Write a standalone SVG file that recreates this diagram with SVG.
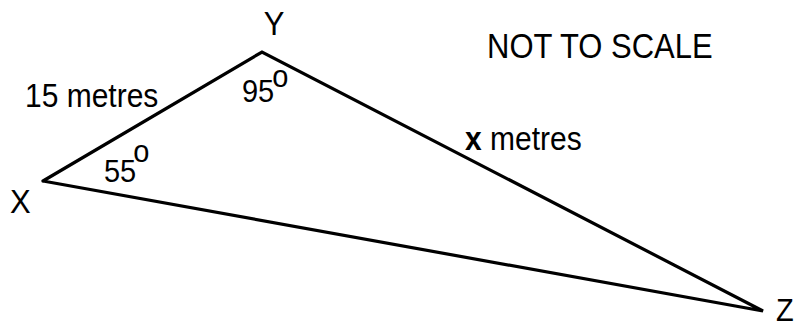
<svg xmlns="http://www.w3.org/2000/svg" width="797" height="329" viewBox="0 0 797 329">
<style>
text{font-family:"Liberation Sans",Arial,sans-serif;fill:#000}
.v{font-size:31px}
.l{font-size:30px}
.a{font-size:29px}
.edge{stroke:#000;stroke-width:3.2;fill:none;stroke-linejoin:miter;stroke-linecap:round}
</style>
<rect width="797" height="329" fill="#fff"/>
<g id="connectors">
<polyline class="edge" points="43,181 262,52 763,311 43,181"/>
</g>
<g id="node-Y"><text class="v" transform="translate(274,35) scale(1,1.08)" text-anchor="middle">Y</text></g>
<g id="node-X"><text class="v" transform="translate(10,213) scale(1,1.08)">X</text></g>
<g id="node-Z"><text transform="translate(776,321) scale(1,1.08)" font-size="29">Z</text></g>
<g id="label-xy"><text class="l" transform="translate(25,107) scale(1,1.1)">15 metres</text></g>
<g id="label-yz"><text class="l" transform="translate(465,150) scale(1,1.1)"><tspan font-weight="bold">x</tspan> metres</text></g>
<g id="angle-Y"><text class="a" transform="translate(242,102) scale(1,1.1)">95<tspan dx="-2" dy="-14">o</tspan></text></g>
<g id="angle-X"><text class="a" transform="translate(104,182) scale(1,1.1)">55<tspan dx="-3" dy="-18">o</tspan></text></g>
<g id="note"><text font-size="31" transform="translate(487,58) scale(1,1.12)">NOT TO SCALE</text></g>
</svg>
